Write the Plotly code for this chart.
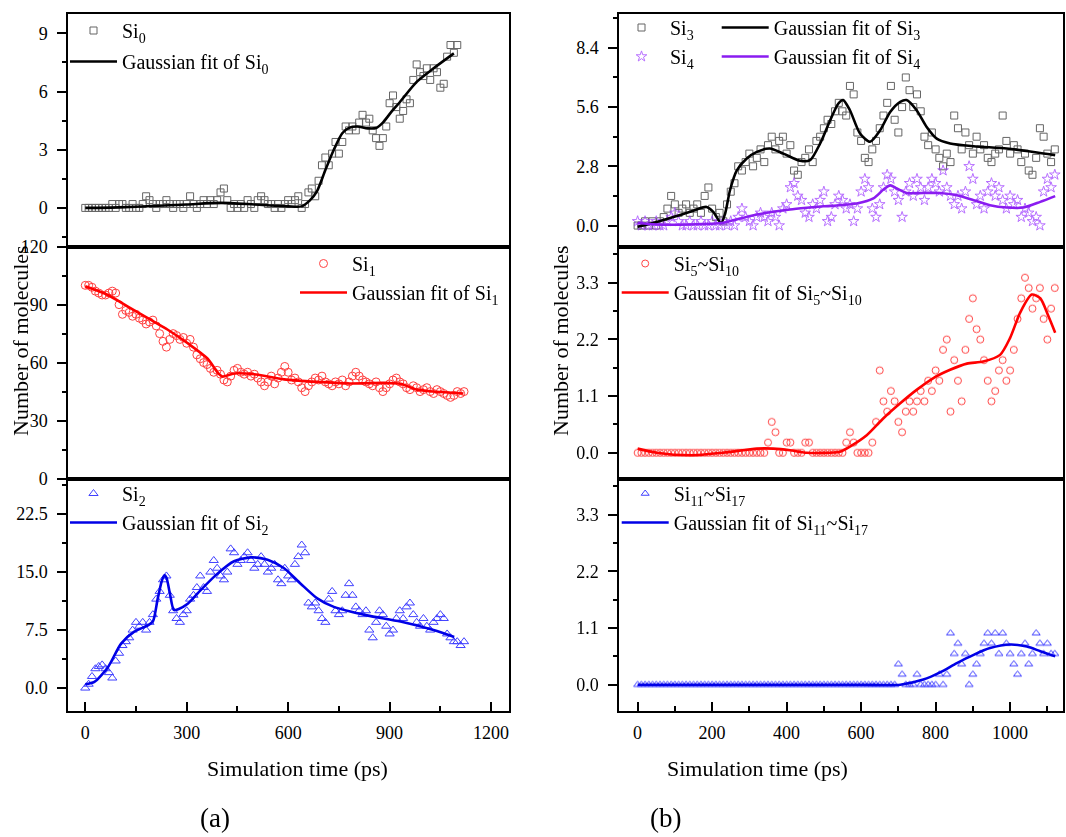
import plotly.graph_objects as go

# ---------------- data ----------------
time_ps = list(range(0, 1121, 10))

si0 = [0, 0, 0, 0, 0, 0, 0, 0, 0.2, 0,
       0.2, 0.2, 0, 0, 0.2, 0, 0, 0.2, 0.6, 0.4,
       0.2, 0, 0.2, 0.2, 0.4, 0.2, 0, 0.2, 0.2, 0,
       0.2, 0.6, 0.2, 0, 0.2, 0.4, 0.2, 0.4, 0.2, 0.4,
       0.8, 1.0, 0.4, 0, 0.2, 0, 0.2, 0, 0.4, 0.2,
       0, 0.4, 0.6, 0.4, 0.2, 0.2, 0, 0.2, 0, 0.2,
       0.4, 0.2, 0.4, 0.6, 0, 0.2, 0.8, 1.0, 0.6, 1.4,
       2.2, 2.6, 2.2, 2.8, 3.4, 2.8, 3.4, 4.2, 4.0, 4.2,
       4.0, 4.4, 4.8, 4.4, 4.6, 4.0, 3.6, 3.2, 3.6, 4.2,
       5.4, 5.8, 5.2, 4.6, 5.0, 5.6, 5.4, 6.6, 7.4, 7.0,
       6.8, 7.2, 6.6, 7.2, 7.0, 6.2, 6.4, 7.8, 8.4, 8.0,
       8.4]

si1 = [100, 100, 99, 97, 96, 95, 95, 96, 97, 96,
       90, 85, 87, 86, 84, 85, 83, 82, 80, 81,
       82, 79, 75, 71, 68, 72, 75, 74, 72, 73,
       70, 72, 68, 64, 62, 60, 59, 57, 55, 56,
       54, 51, 50, 53, 56, 57, 55, 54, 55, 53,
       54, 52, 50, 48, 50, 53, 49, 52, 55, 58,
       55, 51, 52, 50, 47, 45, 48, 50, 52, 51,
       53, 50, 49, 48, 50, 49, 51, 48, 50, 53,
       55, 53, 51, 50, 49, 48, 50, 47, 45, 47,
       49, 51, 52, 50, 49, 47, 46, 48, 47, 45,
       46, 47, 45, 44, 46, 45, 44, 43, 42, 43,
       45, 44, 45]

si2 = [0.0, 0.5, 1.5, 2.5, 2.8, 3.0, 2.5, 2.0, 1.3, 3.5,
       4.5, 5.5, 6.0, 6.5, 7.5, 8.5, 8.0, 8.5, 7.5, 8.5,
       9.5, 11.5, 12.5, 14.0, 14.5, 12.0, 10.0, 9.0, 8.5, 9.5,
       10.0, 11.5, 12.0, 13.0, 14.5, 13.0, 12.5, 15.0, 16.5, 15.5,
       14.5, 14.0, 15.0, 18.0, 17.5, 16.0, 16.5, 17.0, 17.5, 16.5,
       15.5, 16.0, 17.0, 16.0, 15.0, 15.5, 16.0, 14.0, 13.5, 15.5,
       14.5, 14.0, 16.0, 17.0, 18.5, 17.5, 11.0, 10.5, 11.0, 10.0,
       9.0, 8.5, 11.5, 12.5, 10.0, 9.5, 10.0, 12.0, 13.5, 12.0,
       10.5, 10.0, 9.5, 10.0, 7.5, 6.5, 8.5, 10.0, 9.5, 8.0,
       7.0, 7.5, 9.0, 10.0, 9.0, 10.5, 11.0, 9.5, 8.5, 8.0,
       9.0, 8.0, 7.5, 8.5, 9.0, 9.5, 9.0, 7.0, 6.5, 6.0,
       6.0, 5.5, 6.0]

si3 = [0.0, 0.0, 0.2, 0.0, 0.2, 0.0, 0.2, 0.4, 0.8, 1.4,
       1.0, 0.6, 0.8, 1.0, 0.6, 0.8, 1.0, 0.6, 1.4, 1.8,
       0.8, 0.4, 0.6, 0.2, 1.0, 1.6, 2.0, 2.8, 2.6, 3.0,
       3.4, 2.8, 3.2, 3.6, 3.0, 3.8, 4.2, 3.6, 4.0, 4.2,
       3.4, 3.8, 2.6, 2.4, 3.0, 3.2, 3.6, 3.0, 4.0, 4.2,
       4.6, 5.0, 4.8, 5.4, 5.8, 5.4, 5.2, 6.6, 6.2, 4.4,
       4.0, 3.2, 3.0, 3.6, 4.0, 4.6, 5.2, 5.8, 6.6, 5.0,
       4.4, 5.6, 7.0, 6.4, 5.6, 6.2, 5.4, 4.2, 3.8, 4.4,
       3.6, 3.2, 2.8, 3.4, 3.0, 5.2, 4.6, 3.6, 4.4, 3.8,
       3.4, 4.2, 3.6, 3.8, 3.2, 3.0, 3.4, 3.6, 5.2, 4.0,
       3.4, 3.8, 3.6, 3.0, 3.4, 2.6, 2.4, 3.2, 4.6, 4.2,
       3.4, 3.0, 3.6]

si4 = [0.2, 0.0, 0.2, 0.0, 0.0, 0.2, 0.0, 0.0, 0.2, 0.4,
       0.6, 0.2, 0.0, 0.0, 0.2, 0.0, 0.0, 0.2, 0.0, 0.0,
       0.2, 0.0, 0.0, 0.2, 0.0, 0.2, 0.0, 0.4, 0.8, 0.4,
       0.2, 0.0, 0.4, 0.6, 0.4, 0.2, 0.6, 0.4, 0.0, 0.8,
       1.0, 1.8, 2.0, 1.4, 1.2, 0.6, 0.4, 1.0, 0.8, 1.2,
       1.6, 0.2, 0.4, 1.0, 1.4, 1.2, 0.8, 1.0, 0.2, 0.8,
       1.6, 2.2, 1.8, 0.8, 0.4, 1.0, 1.8, 2.4, 2.2, 1.6,
       1.2, 0.4, 1.6, 2.0, 1.4, 2.2, 1.8, 1.2, 1.8, 2.2,
       2.0, 1.6, 2.6, 1.8, 1.4, 1.0, 1.4, 0.8, 1.6, 2.8,
       2.2, 1.0, 1.4, 0.8, 1.6, 2.0, 1.4, 1.8, 1.2, 0.8,
       1.4, 1.0, 1.2, 0.4, 0.8, 0.6, 0.2, 0.4, 0.0, 1.6,
       2.2, 1.8, 2.4]

si5_10 = [0, 0, 0, 0, 0, 0, 0, 0, 0, 0,
          0, 0, 0, 0, 0, 0, 0, 0, 0, 0,
          0, 0, 0, 0, 0, 0, 0, 0, 0, 0,
          0, 0, 0, 0, 0, 0.2, 0.6, 0.4, 0, 0,
          0.2, 0.2, 0, 0, 0, 0.2, 0.2, 0, 0, 0,
          0, 0, 0, 0, 0, 0, 0.2, 0.4, 0.2, 0,
          0, 0, 0, 0.2, 0.6, 1.6, 1.0, 0.8, 1.2, 1.0,
          0.6, 0.4, 0.8, 1.0, 0.8, 1.0, 1.2, 1.0, 1.4, 1.2,
          1.6, 1.4, 2.0, 2.2, 0.8, 1.8, 1.4, 1.0, 2.0, 2.6,
          3.0, 2.4, 2.2, 1.8, 1.4, 1.0, 1.2, 1.6, 1.8, 1.4,
          1.6, 2.0, 2.6, 3.0, 3.4, 3.2, 2.8, 3.0, 3.2, 2.6,
          2.2, 2.8, 3.2]

si11_17 = [0, 0, 0, 0, 0, 0, 0, 0, 0, 0,
           0, 0, 0, 0, 0, 0, 0, 0, 0, 0,
           0, 0, 0, 0, 0, 0, 0, 0, 0, 0,
           0, 0, 0, 0, 0, 0, 0, 0, 0, 0,
           0, 0, 0, 0, 0, 0, 0, 0, 0, 0,
           0, 0, 0, 0, 0, 0, 0, 0, 0, 0,
           0, 0, 0, 0, 0, 0, 0, 0, 0, 0,
           0.4, 0.2, 0, 0, 0, 0.2, 0, 0, 0, 0,
           0, 0.2, 0, 0.2, 1.0, 0.6, 0.8, 0.4, 0.6, 0,
           0.2, 0.4, 0.6, 0.8, 1.0, 0.8, 1.0, 0.6, 1.0, 0.8,
           0.6, 0.4, 0.2, 0.6, 0.8, 0.4, 0.6, 1.0, 0.8, 0.6,
           0.8, 0.6, 0.6]

# Gaussian fit curves
fit0_t = [0, 100, 200, 300, 400, 500, 600, 640, 665, 685, 710, 735, 760, 780, 805, 835, 860, 880, 905, 930, 980, 1030, 1090]
fit0_v = [0.0, 0.03, 0.1, 0.18, 0.26, 0.18, 0.08, 0.08, 0.4, 0.85, 1.95, 3.0, 3.85, 4.13, 4.2, 4.1, 4.12, 4.4, 4.95, 5.45, 6.5, 7.2, 7.97]

fit1_t = [0, 67, 126, 185, 244, 303, 362, 391, 406, 440, 499, 588, 686, 784, 883, 932, 981, 1030, 1118]
fit1_v = [99.5, 95, 89, 83, 77, 70, 62, 55, 52.8, 54.4, 54, 51.3, 50, 49.2, 49.5, 49, 46, 45, 44]

fit2_t = [0, 27, 67, 106, 145, 185, 200, 214, 226, 234, 240, 250, 262, 275, 303, 342, 391, 440, 489, 539, 588, 637, 686, 735, 833, 932, 1030, 1091]
fit2_v = [0.5, 0.8, 2.7, 5.75, 7.3, 8.1, 8.6, 11.5, 13.8, 14.6, 14.3, 12.3, 10.1, 10.2, 10.9, 12.7, 14.8, 16.4, 16.9, 16.6, 15.5, 13.5, 11.6, 10.5, 9.4, 8.6, 7.5, 6.6]

fit3_t = [0, 51, 96, 141, 185, 203, 224, 235, 248, 266, 293, 320, 355, 391, 436, 463, 490, 517, 539, 552, 570, 597, 624, 651, 678, 705, 722, 749, 776, 803, 839, 902, 991, 1063, 1121]
fit3_v = [-0.06, 0.17, 0.4, 0.65, 0.88, 0.65, 0.12, 0.57, 1.67, 2.6, 3.17, 3.48, 3.64, 3.4, 3.06, 3.09, 3.88, 4.98, 5.77, 5.93, 5.45, 4.35, 3.96, 4.5, 5.37, 5.85, 5.93, 5.45, 4.66, 4.11, 3.88, 3.75, 3.64, 3.48, 3.33]

fit4_t = [0, 51, 141, 230, 275, 320, 364, 409, 454, 499, 543, 588, 633, 660, 678, 696, 722, 767, 812, 857, 902, 946, 991, 1036, 1081, 1121]
fit4_v = [0.13, 0.05, 0.05, 0.13, 0.33, 0.52, 0.65, 0.76, 0.84, 0.91, 0.96, 1.04, 1.28, 1.7, 1.9, 1.75, 1.54, 1.54, 1.54, 1.43, 1.2, 0.96, 0.85, 0.85, 1.12, 1.39]

fit5_t = [0, 51, 141, 230, 320, 364, 409, 454, 543, 570, 615, 660, 705, 749, 794, 839, 884, 928, 973, 1000, 1027, 1058, 1081, 1103, 1121]
fit5_v = [0.08, 0.0, -0.05, 0.0, 0.08, 0.08, 0.05, 0.0, 0.02, 0.12, 0.34, 0.67, 0.96, 1.22, 1.45, 1.61, 1.73, 1.77, 1.9, 2.23, 2.72, 3.07, 3.0, 2.65, 2.33]

fit6_t = [0, 200, 400, 600, 705, 767, 812, 857, 902, 946, 1000, 1045, 1081, 1121]
fit6_v = [0, 0, 0, 0, 0.0, 0.1, 0.24, 0.42, 0.58, 0.71, 0.78, 0.74, 0.65, 0.55]

# ---------------- layout helpers ----------------
W, H = 1066, 837
FONT = "Liberation Serif"


def px(x):
    return x / W


def py(y):
    return 1 - y / H


XL = [px(68), px(509)]
XR = [px(619), px(1063)]
YT = [py(246.7), py(14)]
YM = [py(478.5), py(246.7)]
YB = [py(710.5), py(478.5)]

fig = go.Figure()


def add_scatter(x, y, ax, name, symbol, color, legend, size=7):
    fig.add_trace(go.Scatter(
        x=x, y=y, mode="markers", name=name, xaxis="x" + ax, yaxis="y" + ax,
        legend=legend, legendgroup=name, opacity=0.75,
        marker=dict(symbol=symbol, size=size, color=color, line=dict(width=1, color=color)),
    ))


def add_fit(x, y, ax, name, color, legend):
    fig.add_trace(go.Scatter(
        x=x, y=y, mode="lines", name=name, xaxis="x" + ax, yaxis="y" + ax,
        legend=legend, legendgroup=name,
        line=dict(color=color, width=2.6, shape="spline", smoothing=0.7),
    ))


BLK, RED, BLU, PUR = "#000000", "#ff0000", "#0000ff", "#8a1cf0"

add_scatter(time_ps[:len(si0)], si0, "", "Si<sub>0</sub>", "square-open", "#333333", "legend")
add_fit(fit0_t, fit0_v, "", "Gaussian fit of Si<sub>0</sub>", BLK, "legend")

add_scatter(time_ps, si1, "2", "Si<sub>1</sub>", "circle-open", RED, "legend2", 8)
add_fit(fit1_t, fit1_v, "2", "Gaussian fit of Si<sub>1</sub>", RED, "legend2")

add_scatter(time_ps, si2, "3", "Si<sub>2</sub>", "triangle-up-open", BLU, "legend3", 8)
add_fit(fit2_t, fit2_v, "3", "Gaussian fit of Si<sub>2</sub>", "#0000e6", "legend3")

add_scatter(time_ps, si3, "4", "Si<sub>3</sub>", "square-open", "#333333", "legend4")
add_scatter(time_ps, si4, "4", "Si<sub>4</sub>", "star-open", "#a040ff", "legend4", 8)
add_fit(fit3_t, fit3_v, "4", "Gaussian fit of Si<sub>3</sub>", BLK, "legend5")
add_fit(fit4_t, fit4_v, "4", "Gaussian fit of Si<sub>4</sub>", PUR, "legend5")

add_scatter(time_ps, si5_10, "5", "Si<sub>5</sub>~Si<sub>10</sub>", "circle-open", RED, "legend6", 7)
add_fit(fit5_t, fit5_v, "5", "Gaussian fit of Si<sub>5</sub>~Si<sub>10</sub>", RED, "legend6")

add_scatter(time_ps, si11_17, "6", "Si<sub>11</sub>~Si<sub>17</sub>", "triangle-up-open", BLU, "legend7", 7)
add_fit(fit6_t, fit6_v, "6", "Gaussian fit of Si<sub>11</sub>~Si<sub>17</sub>", "#0000e6", "legend7")

tickfont = dict(family=FONT, size=18, color="black")
frame = dict(showline=True, linecolor="black", linewidth=1.5, mirror=True,
             showgrid=False, zeroline=False, tickfont=tickfont, automargin=False)


def yaxis(domain, rng, dtick, minor, fmt=None):
    d = dict(frame, domain=domain, range=rng, tick0=0, dtick=dtick,
             ticks="outside", ticklen=9, tickwidth=1.5, tickcolor="black", ticklabelstandoff=6,
             minor=dict(ticks="outside", ticklen=4.5, tickwidth=1.5, tick0=0, dtick=minor, tickcolor="black"))
    if fmt:
        d["tickformat"] = fmt
    return d


def xaxis_hidden(domain, rng, anchor):
    return dict(frame, domain=domain, range=rng, anchor=anchor, ticks="", showticklabels=False)


def xaxis_bottom(domain, rng, anchor, dtick, minor):
    return dict(frame, domain=domain, range=rng, anchor=anchor, tick0=0, dtick=dtick,
                ticks="inside", ticklen=9, tickwidth=1.5, tickcolor="black", ticklabelstandoff=5,
                minor=dict(ticks="inside", ticklen=5, tickwidth=1.5, tick0=0, dtick=minor, tickcolor="black"))


XLR = [-51, 1253]
XRR = [-50, 1142]

fig.update_layout(
    width=W, height=H, margin=dict(l=0, r=0, t=0, b=0, autoexpand=False),
    paper_bgcolor="white", plot_bgcolor="white",
    font=dict(family=FONT, size=20, color="black"),
    showlegend=True,
    xaxis=xaxis_hidden(XL, XLR, "y"),
    yaxis=dict(yaxis(YT, [-2, 10], 3, 1.5), anchor="x"),
    xaxis2=xaxis_hidden(XL, XLR, "y2"),
    yaxis2=dict(yaxis(YM, [0, 120], 30, 15), anchor="x2"),
    xaxis3=xaxis_bottom(XL, XLR, "y3", 300, 150),
    yaxis3=dict(yaxis(YB, [-2.9, 27.1], 7.5, 3.75, ".1f"), anchor="x3"),
    xaxis4=xaxis_hidden(XR, XRR, "y4"),
    yaxis4=dict(yaxis(YT, [-1, 10], 2.8, 1.4, ".1f"), anchor="x4"),
    xaxis5=xaxis_hidden(XR, XRR, "y5"),
    yaxis5=dict(yaxis(YM, [-0.5, 4.0], 1.1, 0.55, ".1f"), anchor="x5"),
    xaxis6=xaxis_bottom(XR, XRR, "y6", 200, 100),
    yaxis6=dict(yaxis(YB, [-0.5, 4.0], 1.1, 0.55, ".1f"), anchor="x6"),
)

leg_common = dict(xanchor="left", yanchor="top", bgcolor="rgba(0,0,0,0)", borderwidth=0,
                  itemwidth=47, font=dict(family=FONT, size=20, color="black"), tracegroupgap=0)
fig.update_layout(
    legend=dict(leg_common, x=px(65), y=py(11), tracegroupgap=2),
    legend2=dict(leg_common, x=px(295), y=py(244)),
    legend3=dict(leg_common, x=px(65), y=py(474)),
    legend4=dict(leg_common, x=px(613), y=py(8)),
    legend5=dict(leg_common, x=px(716.7), y=py(8)),
    legend6=dict(leg_common, x=px(616.7), y=py(244)),
    legend7=dict(leg_common, x=px(616.7), y=py(474)),
)

ann = []
for xc in (20, 560):
    ann.append(dict(text="Number of molecules", x=px(xc), y=py(341), xref="paper", yref="paper",
                    xanchor="center", yanchor="middle",
                    textangle=-90, showarrow=False, font=dict(family=FONT, size=22, color="black")))
for xc in (297, 757):
    ann.append(dict(text="Simulation time (ps)", x=px(xc), y=py(768), xref="paper", yref="paper",
                    xanchor="center", yanchor="middle",
                    showarrow=False, font=dict(family=FONT, size=22, color="black")))
for txt, xc in (("(a)", 215), ("(b)", 665)):
    ann.append(dict(text=txt, x=px(xc), y=py(818), xref="paper", yref="paper", showarrow=False,
                    xanchor="center", yanchor="middle",
                    font=dict(family=FONT, size=27, color="black")))
fig.update_layout(annotations=ann)

fig.write_html("out.html")
